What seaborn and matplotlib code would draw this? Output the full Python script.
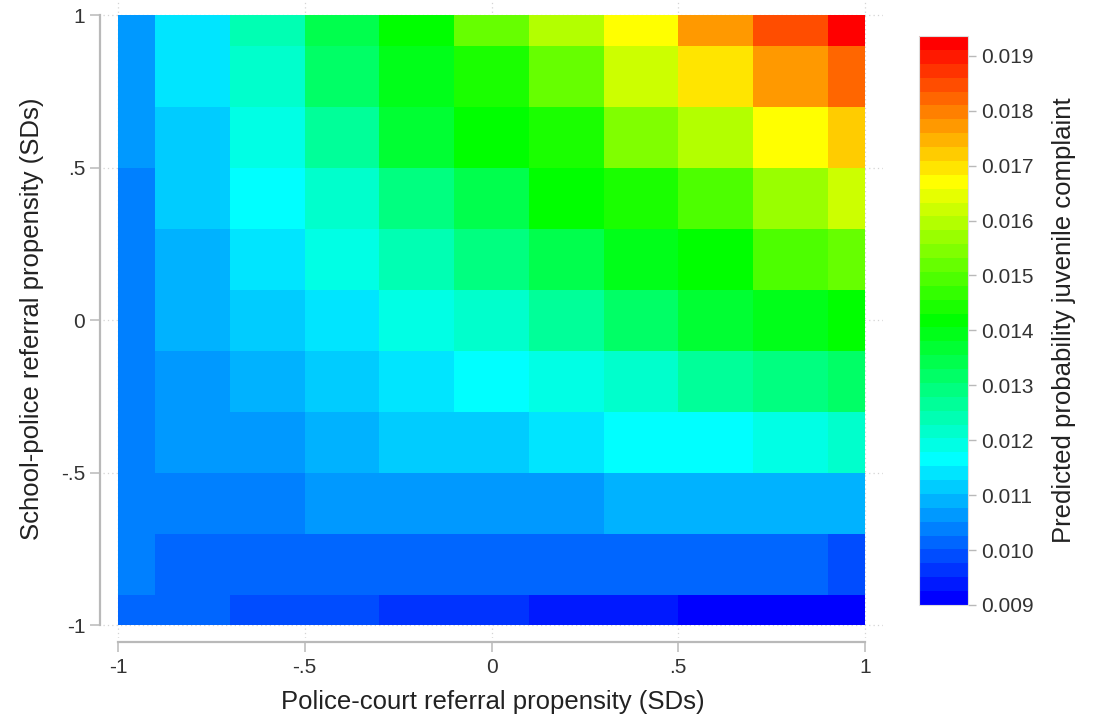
import numpy as np
import pandas as pd
import matplotlib
matplotlib.use("Agg")
import matplotlib.pyplot as plt
from matplotlib.colors import ListedColormap, BoundaryNorm, hsv_to_rgb
import seaborn as sns

# Evaluation grid of the two standardized propensities (SDs)
police_court = [-1.0, -0.8, -0.6, -0.4, -0.2, 0.0, 0.2, 0.4, 0.6, 0.8, 1.0]
school_police = [1.0, 0.8, 0.6, 0.4, 0.2, 0.0, -0.2, -0.4, -0.6, -0.8, -1.0]

# Predicted probability of a juvenile complaint, one list per school-police value,
# ordered along police_court
prob_sp_p10 = [0.01064, 0.01140, 0.01241, 0.01342, 0.01418, 0.01519, 0.01595, 0.01671, 0.01772, 0.01848, 0.01930]
prob_sp_p08 = [0.01064, 0.01140, 0.01216, 0.01317, 0.01393, 0.01443, 0.01519, 0.01620, 0.01696, 0.01772, 0.01822]
prob_sp_p06 = [0.01064, 0.01115, 0.01191, 0.01266, 0.01367, 0.01418, 0.01443, 0.01544, 0.01595, 0.01671, 0.01721]
prob_sp_p04 = [0.01039, 0.01115, 0.01165, 0.01216, 0.01292, 0.01342, 0.01418, 0.01443, 0.01494, 0.01570, 0.01620]
prob_sp_p02 = [0.01039, 0.01090, 0.01140, 0.01191, 0.01241, 0.01292, 0.01342, 0.01393, 0.01418, 0.01494, 0.01519]
prob_sp_000 = [0.01039, 0.01090, 0.01115, 0.01140, 0.01191, 0.01216, 0.01266, 0.01317, 0.01367, 0.01393, 0.01418]
prob_sp_m02 = [0.01039, 0.01064, 0.01090, 0.01115, 0.01140, 0.01165, 0.01191, 0.01216, 0.01266, 0.01292, 0.01317]
prob_sp_m04 = [0.01039, 0.01064, 0.01064, 0.01090, 0.01115, 0.01115, 0.01140, 0.01165, 0.01165, 0.01191, 0.01216]
prob_sp_m06 = [0.01039, 0.01039, 0.01039, 0.01064, 0.01064, 0.01064, 0.01064, 0.01090, 0.01090, 0.01090, 0.01090]
prob_sp_m08 = [0.01039, 0.01014, 0.01014, 0.01014, 0.01014, 0.01014, 0.01014, 0.01014, 0.01014, 0.01014, 0.00988]
prob_sp_m10 = [0.01014, 0.01014, 0.00988, 0.00988, 0.00963, 0.00963, 0.00938, 0.00938, 0.00913, 0.00910, 0.00905]

# Contour scale of the colour legend
z_low, z_high, n_levels = 0.009, 0.01936, 41
cbar_ticks = [0.009, 0.010, 0.011, 0.012, 0.013, 0.014, 0.015, 0.016, 0.017, 0.018, 0.019]
axis_ticks = [-1.0, -0.5, 0.0, 0.5, 1.0]
axis_tick_labels = ["-1", "-.5", "0", ".5", "1"]

sns.set_style("white")
plt.rcParams["font.family"] = ["Liberation Sans", "DejaVu Sans"]

z = np.array([prob_sp_p10, prob_sp_p08, prob_sp_p06, prob_sp_p04, prob_sp_p02, prob_sp_000,
              prob_sp_m02, prob_sp_m04, prob_sp_m06, prob_sp_m08, prob_sp_m10])

# Each grid value owns the square around it, clipped at the +/-1 border:
# split every cell in half-steps and drop the outer half-cells.
z_half = np.repeat(np.repeat(z, 2, axis=0), 2, axis=1)[1:-1, 1:-1]
half = (police_court[1] - police_court[0]) / 2
df = pd.DataFrame(z_half)

# Hue ramp from blue to red, one colour per contour band
hues = np.linspace(240, 0, n_levels) / 360.0
colors = [hsv_to_rgb((h, 1.0, 1.0)) for h in hues]
cmap = ListedColormap(colors)
levels = np.linspace(z_low, z_high, n_levels + 1)
norm = BoundaryNorm(levels, cmap.N)

W, H = 1093, 725
fig = plt.figure(figsize=(W / 100, H / 100), dpi=100)
ax = fig.add_axes([103 / W, 1 - 638 / H, (883 - 103) / W, 638 / H])
cax = fig.add_axes([919 / W, 1 - 605 / H, 49 / W, (605 - 36) / H])

sns.heatmap(df, ax=ax, cbar_ax=cax, cmap=cmap, norm=norm,
            xticklabels=False, yticklabels=False,
            cbar_kws={"ticks": cbar_ticks, "format": "%.3f", "spacing": "proportional"})

x0 = police_court[0]
y0 = school_police[0]


def xpos(v):
    """Column coordinate of a police-court value in the half-step mesh."""
    return (v - x0) / half


def ypos(v):
    """Row coordinate of a school-police value in the half-step mesh."""
    return (y0 - v) / half


ax.set_xlim(xpos(-1.040), xpos(1.048))
ax.set_ylim(ypos(-1.0426), ypos(1.0492))

ax.set_xticks([xpos(v) for v in axis_ticks])
ax.set_xticklabels(axis_tick_labels)
ax.set_yticks([ypos(v) for v in axis_ticks])
ax.set_yticklabels(axis_tick_labels, rotation=0)

axis_grey = "#b9b9b9"
for side in ["left", "bottom"]:
    sp = ax.spines[side]
    sp.set_visible(True)
    sp.set_color(axis_grey)
    sp.set_linewidth(1.6)
ax.spines["left"].set_position(("outward", 2.2))
ax.spines["bottom"].set_position(("outward", 2.9))
ax.spines["left"].set_bounds(ypos(1.0), ypos(-1.0))
ax.spines["bottom"].set_bounds(xpos(-1.0), xpos(1.0))
for side in ["top", "right"]:
    ax.spines[side].set_visible(False)

ax.tick_params(axis="both", which="major", length=7.5, width=1.1, color=axis_grey,
               labelsize=15, labelcolor="#333333", left=True, bottom=True)
ax.tick_params(axis="y", pad=3)
ax.tick_params(axis="x", pad=4)

ax.grid(True, color="#d4d4d4", linestyle=(0, (1, 2.5)), linewidth=0.9)
ax.set_axisbelow(True)

ax.set_xlabel("Police-court referral propensity (SDs)", fontsize=18.5, color="#222222", labelpad=9)
ax.set_ylabel("School-police referral propensity (SDs)", fontsize=18.5, color="#222222", labelpad=12)

cbar = ax.collections[0].colorbar
cbar.minorticks_off()
cbar.outline.set_linewidth(0.8)
cbar.outline.set_edgecolor("#dddddd")
cax.tick_params(which="major", length=5.5, width=1.0, color=axis_grey, labelsize=15,
                labelcolor="#333333", pad=4)
cbar.set_label("Predicted probability juvenile complaint", fontsize=18.5, color="#222222", labelpad=13)

fig.savefig("out.png", dpi=100)
